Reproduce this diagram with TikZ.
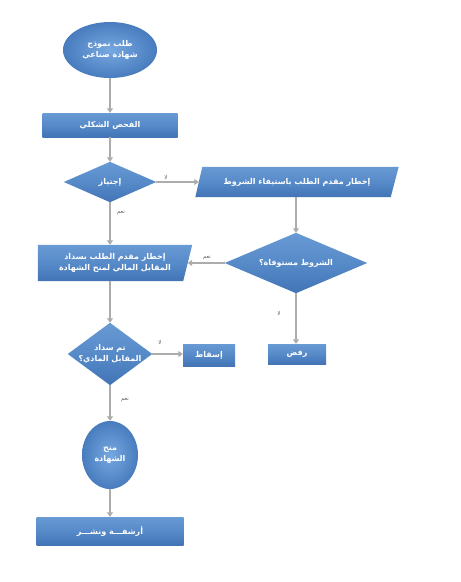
\documentclass[tikz,border=0pt]{standalone}
\usepackage{fontspec}
\usetikzlibrary{shapes.geometric,arrows.meta,backgrounds}
\TeXXeTstate=1
\newfontfamily\arabicfont[Script=Arabic,BoldFont={DejaVu Sans Bold}]{DejaVu Sans}
\newcommand\artxt[1]{\beginR #1\endR}
\definecolor{bluetop}{RGB}{104,154,212}
\definecolor{bluemid}{RGB}{86,138,200}
\definecolor{bluebot}{RGB}{66,116,182}
\definecolor{ballin}{RGB}{118,168,224}
\definecolor{ballout}{RGB}{72,124,190}
\definecolor{conngray}{RGB}{172,172,172}
\definecolor{lblgray}{RGB}{95,95,95}
\tikzset{
  bluefill/.style={top color=bluetop, bottom color=bluebot, middle color=bluemid, draw=none},
  ballfill/.style={inner color=ballin, outer color=ballout, draw=none},
  txt/.style={text=white, font=\arabicfont\bfseries\fontsize{8}{10.5}\selectfont, align=center, inner sep=0pt},
  frame/.style={rectangle, draw=none, inner sep=0pt},
  arrowline/.style={draw=conngray, line width=1.6pt, -{Triangle[width=6pt,length=4.5pt]}},
  lab/.style={font=\arabicfont\fontsize{5.5}{6}\selectfont, text=lblgray, inner sep=0pt}
}
\begin{document}
\begin{tikzpicture}[x=1pt,y=-1pt]
\begin{pgfonlayer}{background}
\fill[white] (0,0) rectangle (461,582);
\end{pgfonlayer}
\useasboundingbox (0,0) rectangle (461,582);

% nodes
\node[ellipse, ballfill, txt, minimum width=94pt, minimum height=56pt] (start) at (110,50)
  {\artxt{طلب نموذج}\\\artxt{شهادة صناعي}};
\node[rectangle, bluefill, txt, minimum width=135pt, minimum height=24pt] (check) at (110,125)
  {\artxt{الفحص الشكلي}};
\node[frame, txt, minimum width=92pt, minimum height=40pt] (pass) at (110,182)
  {\artxt{إجتياز}};
\node[frame, txt, minimum width=203pt, minimum height=30pt] (notify1) at (297,182)
  {\artxt{إخطار مقدم الطلب باستيفاء الشروط}};
\node[frame, txt, minimum width=142pt, minimum height=60pt] (cond) at (296,263)
  {\artxt{الشروط مستوفاة؟}};
\node[frame, txt, minimum width=154pt, minimum height=36pt] (notify2) at (115,263)
  {\artxt{إخطار مقدم الطلب بسداد}\\\artxt{المقابل المالي لمنح الشهادة}};
\node[frame, txt, minimum width=84pt, minimum height=62pt] (paid) at (110,354)
  {\artxt{تم سداد}\\\artxt{المقابل المادي؟}};
\node[rectangle, bluefill, txt, minimum width=52pt, minimum height=22pt] (drop) at (209,355)
  {\artxt{إسقاط}};
\node[rectangle, bluefill, txt, minimum width=58pt, minimum height=20pt] (reject) at (297,354)
  {\artxt{رفض}};
\node[ellipse, ballfill, txt, minimum width=56pt, minimum height=68pt] (grant) at (110,455)
  {\artxt{منح}\\\artxt{الشهادة}};
\node[rectangle, bluefill, txt, minimum width=147pt, minimum height=28pt] (archive) at (110,531)
  {\artxt{أرشفـــة ونشـــر}};

% custom shapes behind text
\begin{pgfonlayer}{background}
\path[bluefill] (pass.north) -- (pass.east) -- (pass.south) -- (pass.west) -- cycle;
\path[bluefill] (cond.north) -- (cond.east) -- (cond.south) -- (cond.west) -- cycle;
\path[bluefill] (paid.north) -- (paid.east) -- (paid.south) -- (paid.west) -- cycle;
\path[bluefill] ([xshift=7pt]notify1.north west) -- (notify1.north east)
  -- ([xshift=-8pt]notify1.south east) -- (notify1.south west) -- cycle;
\path[bluefill] (notify2.north west) -- (notify2.north east)
  -- ([xshift=-9pt]notify2.south east) -- (notify2.south west) -- cycle;
\end{pgfonlayer}

% connectors
\draw[arrowline] (start.south) -- (start.south |- check.north);
\draw[arrowline] (check.south) -- (check.south |- pass.north);
\draw[arrowline] (pass.east) -- ([xshift=3.5pt]notify1.west);
\draw[arrowline] (cond.north |- notify1.south) -- (cond.north);
\draw[arrowline] (pass.south) -- (pass.south |- notify2.north);
\draw[arrowline] (cond.west) -- ([xshift=-4.5pt]notify2.east);
\draw[arrowline] (pass.south |- notify2.south) -- (paid.north);
\draw[arrowline] (cond.south) -- (cond.south |- reject.north);
\draw[arrowline] (paid.east) -- (paid.east -| drop.west);
\draw[arrowline] (paid.south) -- (grant.north);
\draw[arrowline] (grant.south) -- (grant.south |- archive.north);

% labels
\node[lab] (l1) at (166,177) {\artxt{لا}};
\node[lab] (l2) at (121,213) {\artxt{نعم}};
\node[lab] (l3) at (207,258) {\artxt{نعم}};
\node[lab] (l4) at (279,313) {\artxt{لا}};
\node[lab] (l5) at (160,342) {\artxt{لا}};
\node[lab] (l6) at (125,400) {\artxt{نعم}};
\end{tikzpicture}
\end{document}
